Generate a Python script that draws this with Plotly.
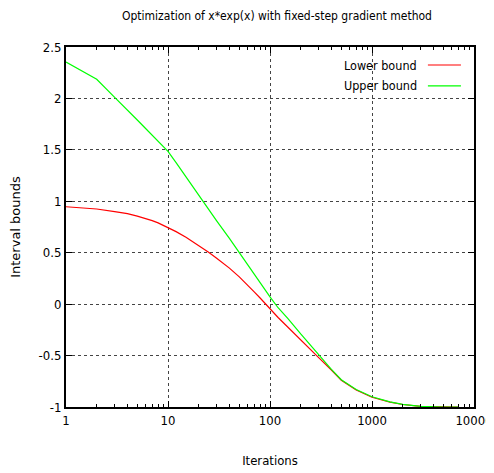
import plotly.graph_objects as go

# iteration counts and interval bounds
iterations = [1, 2, 3, 4, 5, 6, 7, 8, 9, 10, 12, 15, 20, 25, 30, 40, 50, 60, 70, 80,
              100, 120, 150, 200, 250, 300, 400, 500, 700, 1000, 1500, 2000, 3000,
              5000, 7000]
lower_bound = [0.947, 0.925, 0.90, 0.88, 0.856, 0.834, 0.812, 0.79, 0.767, 0.745,
               0.705, 0.65, 0.57, 0.505, 0.447, 0.35, 0.265, 0.19, 0.12, 0.06,
               -0.045, -0.13, -0.225, -0.35, -0.44, -0.52, -0.64, -0.74, -0.835,
               -0.905, -0.952, -0.976, -0.994, -1.0, -1.0]
upper_bound = [2.354, 2.186, 2.01, 1.89, 1.79, 1.71, 1.645, 1.585, 1.535, 1.485,
               1.375, 1.235, 1.056, 0.92, 0.81, 0.64, 0.50, 0.387, 0.29, 0.21,
               0.07, -0.035, -0.14, -0.29, -0.40, -0.50, -0.635, -0.735, -0.83,
               -0.90, -0.95, -0.975, -0.993, -1.0, -1.0]

x_tickvals = [1, 10, 100, 1000, 10000]
x_ticktext = ["1", "10", "100", "1000", "10000"]
y_tickvals = [-1, -0.5, 0, 0.5, 1, 1.5, 2, 2.5]
y_ticktext = ["-1", "-0.5", "0", "0.5", "1", "1.5", "2", "2.5"]

series = [("Lower bound", lower_bound, "#ff0000"),
          ("Upper bound", upper_bound, "#00ff00")]

narrow = "DejaVu Sans Condensed, Liberation Sans Narrow, Liberation Sans, Arial"

fig = go.Figure()
for name, vals, color in series:
    fig.add_trace(go.Scatter(x=iterations, y=vals, name=name, mode="lines",
                             line=dict(color=color, width=1.2), showlegend=False))

# gnuplot-style key: text on the left, line sample on the right
key_y = [0.95, 0.892]
for (name, vals, color), ky in zip(series, key_y):
    fig.add_annotation(x=0.865, y=ky, xref="paper", yref="paper", text=name,
                       showarrow=False, xanchor="right", yanchor="middle",
                       font=dict(family=narrow, size=12.5, color="black"))
    fig.add_shape(type="line", xref="paper", yref="paper", x0=0.887, x1=0.968,
                  y0=ky, y1=ky, line=dict(color=color, width=1.2))

axis_common = dict(
    showline=True, linecolor="black", linewidth=2, mirror="allticks",
    ticks="inside", ticklen=6, tickcolor="black", tickwidth=1,
    showgrid=True, gridcolor="#444444", griddash="dot", gridwidth=1,
    zeroline=False, automargin=False,
    tickfont=dict(family=narrow, size=13, color="black"),
)

fig.update_xaxes(
    type="log", range=[0, 4], tickvals=x_tickvals, ticktext=x_ticktext,
    minor=dict(ticks="inside", ticklen=3, tickcolor="black", showgrid=False,
               dtick="D1"),
    title=dict(text="Iterations", font=dict(family=narrow, size=13, color="black"),
               standoff=29),
    **axis_common,
)
fig.update_yaxes(
    range=[-1, 2.5], tickvals=y_tickvals, ticktext=y_ticktext,
    title=dict(text="Interval bounds",
               font=dict(family="DejaVu Sans", size=13, color="black"), standoff=16),
    **axis_common,
)

# the page body keeps its 8px default margin, so everything is shifted by 8px
fig.update_layout(
    width=486, height=465,
    margin=dict(l=58, r=20, t=39, b=66),
    paper_bgcolor="white", plot_bgcolor="white",
    title=dict(text="Optimization of x*exp(x) with fixed-step gradient method",
               x=0.5535, xanchor="center", y=0.9828, yanchor="middle",
               font=dict(family=narrow, size=12, color="black")),
)

fig.write_html("out.html")
